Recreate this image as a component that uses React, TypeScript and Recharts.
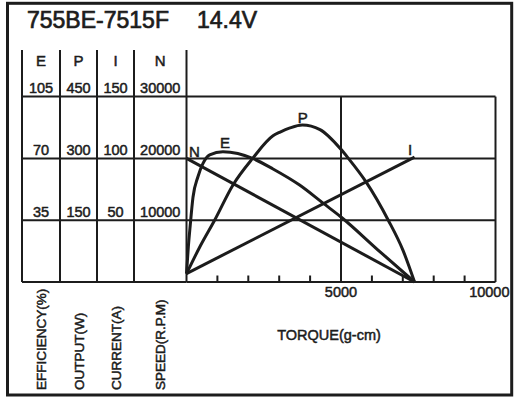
import React from 'react'
import { LineChart, Line, XAxis, YAxis, ReferenceLine, ReferenceDot } from 'recharts'

const INK = '#1c1c1c'
const FONT = '"Liberation Sans", Arial, Helvetica, sans-serif'

// readings: torque (g-cm) and value
const effTorque = [0, 60, 120, 210, 370, 530, 750, 1180, 1660, 2140, 2800, 3660, 4430, 5000, 6180, 7380]
const effValue = [4.8, 20, 32, 48, 59.6, 67, 72, 73.8, 72.8, 70, 64, 54.9, 44.5, 36.8, 18.4, 0]

const powTorque = [0, 450, 910, 1500, 2140, 2800, 3030, 3350, 3750, 4320, 5000, 5240, 5810, 6530, 7000, 7380]
const powValue = [20, 88, 150, 235, 300, 355, 364, 374, 381, 370, 322, 300, 243, 150, 78, 0]

const curTorque = [0, 7380]
const curValue = [6.8, 101]

const spdTorque = [0, 7380]
const spdValue = [20000, 0]

const torqueTicks = [0, 1000, 2000, 3000, 4000, 5000, 6000, 7000, 8000, 9000, 10000]
const torqueLabels = [5000, 10000]
const torqueGrid = [5000, 10000]
const effTicks = [0, 35, 70, 105]
const powTicks = [0, 150, 300, 450]
const curTicks = [0, 50, 100, 150]
const spdTicks = [0, 10000, 20000, 30000]

// the axis columns run up past the top grid line to hold the header letters
const HEAD = 232 / 185.4

const toRows = (ts: number[], vs: number[]) => ts.map((t, i) => ({ t, v: vs[i] }))
const effData = toRows(effTorque, effValue)
const powData = toRows(powTorque, powValue)
const curData = toRows(curTorque, curValue)
const spdData = toRows(spdTorque, spdValue)

const peak = (vs: number[]) => vs.indexOf(Math.max(...vs))

// ids sort innermost first (next to the plot) -> outermost
const SPD = '1-speed'
const CUR = '2-current'
const POW = '3-output'
const EFF = '4-efficiency'

const columns = [
  { id: SPD, ticks: spdTicks, w: 52.5, head: 'N', title: 'SPEED(R.P.M)' },
  { id: CUR, ticks: curTicks, w: 37, head: 'I', title: 'CURRENT(A)' },
  { id: POW, ticks: powTicks, w: 37, head: 'P', title: 'OUTPUT(W)' },
  { id: EFF, ticks: effTicks, w: 38, head: 'E', title: 'EFFICIENCY(%)', edge: true },
]

const txt = { fill: INK, fontFamily: FONT, stroke: INK, strokeWidth: 0.5 }

const ColumnTick = ({ x, y, payload, colW }: any) => {
  const left = x - colW
  return (
    <g>
      <line x1={left} x2={x} y1={y} y2={y} stroke={INK} strokeWidth={2} />
      {payload.value !== 0 && (
        <text x={left + colW / 2} y={y - 3.5} textAnchor="middle" fontSize={14.5} {...txt}>
          {payload.value}
        </text>
      )}
    </g>
  )
}

const ColumnHead = ({ viewBox, head, title, edge }: any) => {
  const { x, y, width, height } = viewBox
  const cx = x + width / 2
  const bx = cx + 5
  const by = y + height + 108
  return (
    <g>
      {edge && <line x1={x} x2={x} y1={y} y2={y + height} stroke={INK} strokeWidth={2} />}
      <text x={cx} y={y + 16} textAnchor="middle" fontSize={15} {...txt}>{head}</text>
      <text x={bx} y={by} transform={`rotate(-90 ${bx} ${by})`} fontSize={13.5} {...txt}>{title}</text>
    </g>
  )
}

const TorqueTick = ({ x, y, payload }: any) => {
  const v = payload.value
  return (
    <g>
      {v > 0 && v < 10000 && <line x1={x} x2={x} y1={y} y2={y - 6.5} stroke={INK} strokeWidth={2} />}
      {torqueLabels.includes(v) && (
        <text
          x={v === 10000 ? x + 14 : x}
          y={y + 15}
          textAnchor={v === 10000 ? 'end' : 'middle'}
          fontSize={14.5}
          {...txt}
        >
          {v}
        </text>
      )}
    </g>
  )
}

const TorqueTitle = ({ viewBox }: any) => (
  <text x={viewBox.x + viewBox.width / 2 - 12} y={viewBox.y + 57.5} textAnchor="middle" fontSize={14.5} {...txt}>
    TORQUE(g-cm)
  </text>
)

const CurveTag = ({ viewBox, text, dx, dy }: any) => (
  <text x={viewBox.x + dx} y={viewBox.y + dy} textAnchor="middle" fontSize={15} {...txt}>
    {text}
  </text>
)

const curve = { stroke: INK, strokeWidth: 3, dot: false, isAnimationActive: false }
const rule = { stroke: INK, strokeWidth: 2 }

export default function App() {
  const ePk = peak(effValue)
  const pPk = peak(powValue)
  const last = curTorque.length - 1
  const spdTop = spdTicks[spdTicks.length - 1]
  return (
    <div style={{ position: 'fixed', left: 0, top: 0, width: 516, height: 400, background: '#fff' }}>
      <div style={{ position: 'absolute', left: 0, top: 0 }}>
        <LineChart width={516} height={400} margin={{ top: 50, right: 20.5, bottom: 88, left: 22 }}>
          <XAxis
            dataKey="t"
            type="number"
            domain={[0, 10000]}
            ticks={torqueTicks}
            interval={0}
            tickSize={0}
            tickMargin={0}
            tickLine={false}
            height={30}
            axisLine={rule}
            tick={<TorqueTick />}
            label={<TorqueTitle />}
          />
          {columns.map(c => (
            <YAxis
              key={c.id}
              yAxisId={c.id}
              type="number"
              domain={[0, c.ticks[c.ticks.length - 1] * HEAD]}
              ticks={c.ticks}
              interval={0}
              width={c.w}
              tickSize={0}
              tickMargin={0}
              tickLine={false}
              axisLine={rule}
              tick={<ColumnTick colW={c.w} />}
              label={<ColumnHead head={c.head} title={c.title} edge={c.edge} />}
            />
          ))}
          {spdTicks.slice(1).map(v => (
            <ReferenceLine key={`h${v}`} yAxisId={SPD} y={v} {...rule} />
          ))}
          {torqueGrid.map(v => (
            <ReferenceLine
              key={`v${v}`}
              yAxisId={SPD}
              ifOverflow="visible"
              segment={[{ x: v, y: 0 }, { x: v, y: spdTop }]}
              {...rule}
            />
          ))}
          <Line yAxisId={SPD} data={spdData} dataKey="v" type="linear" {...curve} />
          <Line yAxisId={CUR} data={curData} dataKey="v" type="linear" {...curve} />
          <Line yAxisId={POW} data={powData} dataKey="v" type="monotone" {...curve} />
          <Line yAxisId={EFF} data={effData} dataKey="v" type="monotone" {...curve} />
          <ReferenceDot yAxisId={SPD} x={spdTorque[0]} y={spdValue[0]} r={0} fill="none" stroke="none"
            label={<CurveTag text="N" dx={8} dy={-1.5} />} />
          <ReferenceDot yAxisId={EFF} x={effTorque[ePk]} y={effValue[ePk]} r={0} fill="none" stroke="none"
            label={<CurveTag text="E" dx={2} dy={-3.5} />} />
          <ReferenceDot yAxisId={POW} x={powTorque[pPk]} y={powValue[pPk]} r={0} fill="none" stroke="none"
            label={<CurveTag text="P" dx={0.5} dy={-2.5} />} />
          <ReferenceDot yAxisId={CUR} x={curTorque[last]} y={curValue[last]} r={0} fill="none" stroke="none"
            label={<CurveTag text="I" dx={-4.5} dy={-2} />} />
        </LineChart>
      </div>
      <svg width={516} height={400} style={{ position: 'absolute', left: 0, top: 0, pointerEvents: 'none' }}>
        <rect x={7.5} y={3.3} width={504.2} height={391.7} fill="none" stroke={INK} strokeWidth={3} />
        <text x={27} y={28} fontSize={23} {...txt} strokeWidth={0.7}>755BE-7515F</text>
        <text x={197} y={28} fontSize={23} {...txt} strokeWidth={0.7}>14.4V</text>
      </svg>
    </div>
  )
}
